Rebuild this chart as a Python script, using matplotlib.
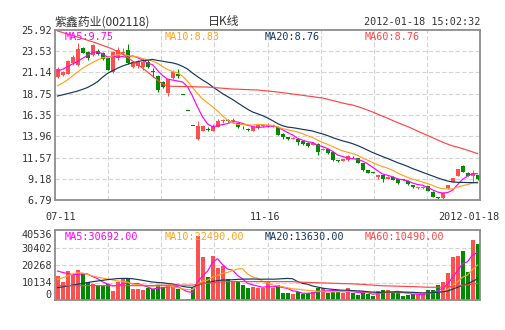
import matplotlib
matplotlib.use("Agg")
import matplotlib.pyplot as plt
import numpy as np
import pandas as pd

# ---------------- data ----------------
opens = [20.67, 20.86, 20.97, 22.20, 21.98, 23.90, 23.45, 23.10, 23.60, 23.30,
         22.73, 21.15, 22.75, 23.30, 23.67, 21.79, 21.87, 21.79, 22.36, 21.28,
         20.74, 20.11, 18.79, 20.48, 21.00, 18.66, 16.80, 15.12, 13.60, 14.59,
         14.80, 14.59, 15.04, 15.65, 15.75, 15.68, 15.42, 15.00, 14.72, 14.59,
         14.85, 15.10, 15.15, 15.06, 15.04, 14.22, 13.84, 13.70, 13.69, 13.47,
         13.24, 13.02, 13.09, 12.45, 12.49, 12.23, 11.25, 11.21, 11.29, 11.62,
         11.48, 10.92, 10.17, 9.90, 9.42, 9.60, 9.12, 9.42, 9.12, 9.10,
         8.97, 8.48, 8.10, 8.10, 8.36, 7.73, 7.00, 6.98, 8.10, 8.85,
         9.49, 10.62, 9.87, 9.49, 9.60]
highs = [21.72, 21.35, 22.55, 23.10, 24.42, 24.00, 23.60, 24.30, 23.80, 23.50,
         22.80, 23.60, 24.00, 23.90, 24.40, 22.45, 22.50, 22.73, 22.50, 21.61,
         20.80, 20.20, 20.45, 21.40, 21.50, 18.66, 16.80, 15.12, 15.72, 15.20,
         15.00, 15.30, 15.85, 15.90, 15.85, 15.98, 15.50, 15.10, 14.85, 15.05,
         15.30, 15.30, 15.42, 15.30, 15.10, 14.30, 13.90, 13.85, 13.75, 13.50,
         13.30, 13.30, 13.15, 12.60, 12.55, 12.30, 11.30, 11.40, 11.85, 11.70,
         11.55, 10.95, 10.20, 9.95, 9.62, 9.65, 9.45, 9.45, 9.15, 9.15,
         9.00, 8.50, 8.20, 8.32, 8.40, 7.75, 7.10, 7.65, 8.50, 9.25,
         10.30, 10.70, 9.90, 10.17, 9.65]
lows = [20.48, 20.75, 20.95, 22.00, 21.90, 23.30, 22.60, 23.00, 23.10, 22.60,
        21.40, 21.10, 22.60, 23.20, 22.10, 21.60, 21.70, 21.42, 21.70, 20.67,
        18.95, 19.40, 18.53, 20.40, 20.50, 18.63, 16.77, 15.09, 13.58, 14.50,
        14.50, 14.50, 14.95, 15.50, 15.55, 15.42, 14.90, 14.80, 14.55, 14.55,
        14.80, 15.00, 14.97, 15.00, 14.05, 13.60, 13.50, 13.65, 12.98, 13.00,
        12.80, 12.98, 11.85, 12.40, 11.97, 11.20, 11.10, 11.15, 11.20, 11.50,
        10.95, 10.10, 9.80, 9.80, 9.12, 8.85, 9.10, 9.00, 8.60, 9.05,
        8.50, 8.15, 8.05, 8.05, 7.80, 7.10, 6.90, 6.95, 8.05, 8.80,
        9.45, 9.90, 9.45, 8.85, 9.05]
closes = [21.50, 21.23, 22.43, 22.90, 23.75, 23.35, 22.80, 24.20, 23.20, 22.70,
          21.42, 23.40, 23.65, 23.50, 22.17, 22.36, 22.36, 22.36, 21.79, 21.20,
          19.17, 19.47, 20.37, 21.23, 20.70, 18.63, 16.77, 15.09, 15.12, 15.12,
          14.70, 15.12, 15.72, 15.72, 15.70, 15.74, 14.97, 14.95, 14.67, 14.97,
          15.23, 15.15, 15.20, 15.20, 14.10, 13.84, 13.62, 13.80, 13.32, 13.09,
          12.87, 13.24, 12.23, 12.55, 12.04, 11.29, 11.20, 11.37, 11.74, 11.58,
          10.99, 10.17, 9.87, 9.85, 9.60, 9.12, 9.42, 9.04, 8.67, 9.07,
          8.55, 8.22, 8.15, 8.29, 7.84, 7.17, 6.98, 7.62, 8.48, 9.23,
          10.24, 9.98, 9.49, 9.87, 9.12]
volumes = [14072, 10600, 16970, 14477, 17550, 15820, 10600, 9440, 8690, 8300,
           9440, 5210, 10600, 12160, 12550, 6370, 6370, 5790, 6760, 6370,
           8690, 7720, 8690, 8110, 6370, 200, 600, 7140, 37060, 25080,
           13500, 25480, 18700, 19880, 12160, 10230, 10230, 8690, 7140, 7720,
           6760, 6760, 10230, 6760, 8690, 3860, 3860, 3470, 4830, 3470,
           3860, 4830, 6760, 7140, 3860, 4830, 4440, 3860, 7140, 3860,
           2900, 4250, 3300, 2510, 5210, 5790, 5600, 3860, 4830, 2510,
           2900, 3280, 3280, 3280, 5790, 5790, 8690, 10230, 15440, 25090,
           25670, 28370, 16400, 34740, 32420]

# moving-average values before a full window is available
ma5_head = [21.3, 21.5, 21.8, 22.1]
ma10_head = [19.65, 19.95, 20.3, 20.75, 21.2, 21.6, 21.95, 22.25, 22.55]
ma20_head = [18.49, 18.62, 18.76, 18.9, 19.05, 19.24, 19.45, 19.75, 20.1, 20.6,
             21.04, 21.34, 21.62, 21.87, 22.06, 22.24, 22.36, 22.47, 22.52]
ma60_head = [25.81, 25.64, 25.47, 25.30, 25.13, 24.95, 24.77, 24.59, 24.40, 24.20,
             23.99, 23.78, 23.50, 23.22, 22.83, 22.43, 22.04, 21.64, 21.19, 20.74,
             20.29, 19.84, 19.62, 19.59, 19.57, 19.56, 19.55, 19.54, 19.52, 19.51,
             19.50, 19.46, 19.41, 19.37, 19.32, 19.28, 19.26, 19.23, 19.21, 19.19,
             19.17, 19.11, 19.06, 19.00, 18.94, 18.87, 18.80, 18.72, 18.65, 18.57,
             18.49, 18.42, 18.34, 18.27, 18.13, 17.99, 17.85, 17.70, 17.58]
vma5_head = [16790, 16000, 15300, 14800]
vma10_head = [12000, 12800, 13900, 15000, 15900, 15600, 14800, 14000, 13200]
vma20_head = [7140, 7600, 8100, 8600, 9100, 9600, 10100, 10600, 11000, 11400,
              11800, 12100, 12400, 12500, 12500, 12300, 11900, 11400, 10900]
vma60_head = [8300] * 20 + [8600] * 8 + [9100, 9500, 9650, 10000, 10250, 10500, 10600] \
    + [10650] * 13 + [10400, 10300, 10200, 10100, 10000, 9900, 9800, 9700, 9600, 9500, 9450]

price_ticks = [6.79, 9.18, 11.57, 13.96, 16.35, 18.75, 21.14, 23.53, 25.92]
vol_ticks = [0, 10134, 20268, 30402, 40536]
ma_names = ["MA5", "MA10", "MA20", "MA60"]
ma_windows = [5, 10, 20, 60]
price_ma_values = ["9.75", "8.83", "8.76", "8.76"]
vol_ma_values = ["30692.00", "22490.00", "13630.00", "10490.00"]
x_labels = ["07-11", "11-16", "2012-01-18"]
title = "紫鑫药业(002118)"
period = "日K线"
timestamp = "2012-01-18 15:02:32"

# ---------------- style ----------------
RED = '#ff5050'
GREEN = '#008a00'
MA_COLORS = ['#ff00ff', '#ffa31a', '#14365e', '#ff4545']
GRID = '#d4d4d4'
SPINE = '#8c8c8c'
TXT = '#333333'
MONO = 'DejaVu Sans Mono'
CJK = ['Noto Sans CJK SC', 'DejaVu Sans']
FS = 7.3

W, H = 505, 330
fig = plt.figure(figsize=(W / 100, H / 100), dpi=100)


def axrect(l, t, r, b):
    return [l / W, 1 - b / H, (r - l) / W, (b - t) / H]


ax = fig.add_axes(axrect(55, 30, 480, 200))
axv = fig.add_axes(axrect(55, 230, 480, 300))

n = len(closes)
x = np.arange(n)
o = np.array(opens, float)
c = np.array(closes, float)
h = np.array(highs, float)
lo = np.array(lows, float)
colors = np.where(c >= o, RED, GREEN)


def moving(vals, win, head):
    s = pd.Series(vals, dtype=float).rolling(win).mean().to_numpy()
    s[:win - 1] = head
    return s


price_heads = [ma5_head, ma10_head, ma20_head, ma60_head]
vol_heads = [vma5_head, vma10_head, vma20_head, vma60_head]

# grids
vgrid = [-0.5 + k * n / 8 for k in range(1, 8)]
for a in (ax, axv):
    a.set_xlim(-0.5, n - 0.5)
    for gx in vgrid:
        a.axvline(gx, color=GRID, lw=0.8, ls=(0, (4, 2)), zorder=0)
    for s in a.spines.values():
        s.set_color(SPINE)
        s.set_linewidth(1.3)
    a.set_xticks([])
    a.tick_params(axis='y', length=0, pad=2.2, labelsize=FS, labelcolor=TXT)

# price panel
ax.set_ylim(price_ticks[0], price_ticks[-1])
for gy in price_ticks[1:-1]:
    ax.axhline(gy, color=GRID, lw=0.8, ls=(0, (4, 2)), zorder=0)
ax.set_yticks(price_ticks)
ax.set_yticklabels([f"{t:.2f}" for t in price_ticks], family=MONO)

ax.vlines(x, lo, h, colors=colors, linewidth=0.75, zorder=2)
body_bot = np.minimum(o, c)
body_h = np.maximum(np.abs(c - o), 0.1)
ax.bar(x, body_h, bottom=body_bot, width=0.8, color=colors, linewidth=0, zorder=2)

for win, head, col in zip(ma_windows, price_heads, MA_COLORS):
    ax.plot(x, moving(closes, win, head), color=col, lw=0.85, zorder=3)

# volume panel
axv.set_ylim(vol_ticks[0], vol_ticks[-1])
for gy in vol_ticks[1:-1]:
    axv.axhline(gy, color=GRID, lw=0.8, ls=(0, (4, 2)), zorder=0)
axv.bar(x, volumes, width=0.8, color=colors, linewidth=0, zorder=2)
for win, head, col in zip(ma_windows, vol_heads, MA_COLORS):
    axv.plot(x, moving(volumes, win, head), color=col, lw=0.85, zorder=3)
axv.set_yticks(vol_ticks)
vlabels = axv.set_yticklabels([str(t) for t in vol_ticks], family=MONO)
vlabels[0].set_va('bottom')
vlabels[-1].set_va('top')

# texts
fig.text(55 / W, 1 - 22 / H, title, family=CJK, fontsize=8.6, color=TXT, va='center', ha='left')
fig.text(208 / W, 1 - 22 / H, period, family=CJK, fontsize=8.6, color=TXT, va='center', ha='left')
fig.text(480 / W, 1 - 22 / H, timestamp, family=MONO, fontsize=FS, color=TXT, va='center', ha='right')

for k, (name, val, col) in enumerate(zip(ma_names, price_ma_values, MA_COLORS)):
    fig.text((65 + 100 * k) / W, 1 - 37 / H, f"{name}:{val}", family=MONO, fontsize=FS,
             color=col, va='center', ha='left')
for k, (name, val, col) in enumerate(zip(ma_names, vol_ma_values, MA_COLORS)):
    fig.text((65 + 100 * k) / W, 1 - 237 / H, f"{name}:{val}", family=MONO, fontsize=FS,
             color=col, va='center', ha='left')

fig.text(45 / W, 1 - 217 / H, x_labels[0], family=MONO, fontsize=FS, color=TXT, va='center', ha='left')
fig.text(265 / W, 1 - 217 / H, x_labels[1], family=MONO, fontsize=FS, color=TXT, va='center', ha='center')
fig.text(499 / W, 1 - 217 / H, x_labels[2], family=MONO, fontsize=FS, color=TXT, va='center', ha='right')

fig.savefig("out.png", dpi=100)
